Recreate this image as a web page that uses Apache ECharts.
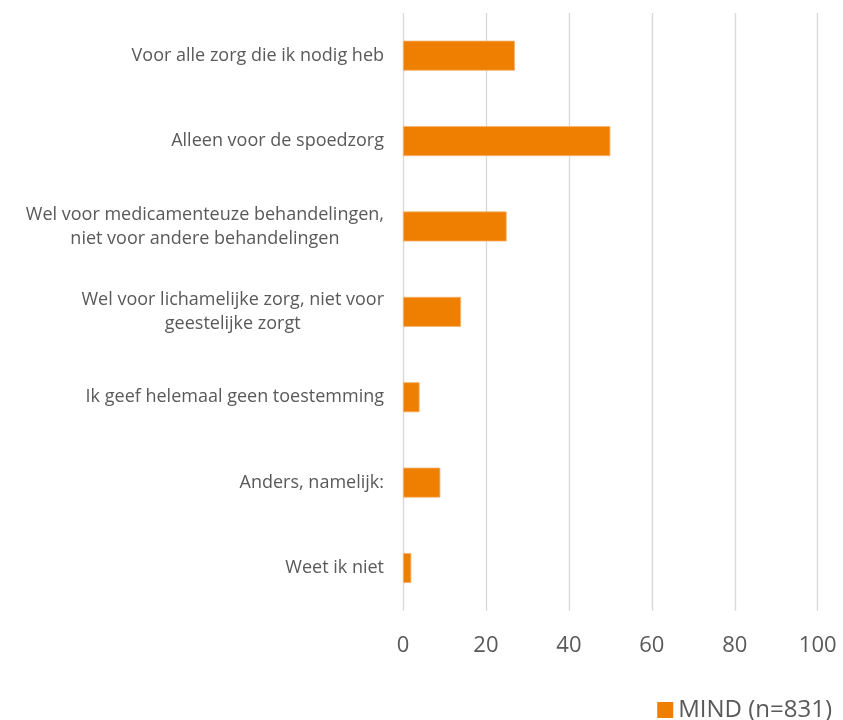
<!DOCTYPE html>
<html>
<head>
<meta charset="utf-8">
<script src="https://cdn.jsdelivr.net/npm/echarts@6/dist/echarts.min.js"></script>
<style>
html,body{margin:0;padding:0;background:#fff;}
#chart{width:843px;height:720px;}
</style>
</head>
<body>
<div id="chart"></div>
<script>
const categories = [
  'Voor alle zorg die ik nodig heb',
  'Alleen voor de spoedzorg',
  'Wel voor medicamenteuze behandelingen,\nniet voor andere behandelingen',
  'Wel voor lichamelijke zorg, niet voor\ngeestelijke zorgt',
  'Ik geef helemaal geen toestemming',
  'Anders, namelijk:',
  'Weet ik niet'
];
const seriesName = 'MIND (n=831)';
const values = [27, 50, 25, 14, 4, 9, 2];
const xTicks = { min: 0, max: 100, interval: 20 };

const chart = echarts.init(document.getElementById('chart'), null, { renderer: 'canvas' });
chart.setOption({
  animation: false,
  backgroundColor: '#ffffff',
  textStyle: { fontFamily: 'Open Sans' },
  grid: { left: 403, right: 25.3, top: 13, bottom: 109.3, containLabel: false },
  legend: {
    data: [seriesName],
    right: 6,
    top: 693,
    itemWidth: 16,
    itemHeight: 16,
    itemGap: 9,
    icon: 'rect',
    itemStyle: { borderWidth: 0, color: '#EF7F00' },
    textStyle: { color: '#595959', fontSize: 24, fontFamily: 'Open Sans', padding: [0, 0, 0, 0] }
  },
  xAxis: {
    type: 'value',
    min: xTicks.min,
    max: xTicks.max,
    interval: xTicks.interval,
    axisLine: { show: false },
    axisTick: { show: false },
    splitLine: { show: true, lineStyle: { color: '#D9D9D9', width: 1.4 } },
    axisLabel: { color: '#595959', fontSize: 22, margin: 24, fontFamily: 'Open Sans' }
  },
  yAxis: {
    type: 'category',
    data: categories,
    inverse: true,
    axisLine: { show: false },
    axisTick: { show: false },
    splitLine: { show: false },
    axisLabel: {
      color: '#595959',
      fontSize: 18,
      fontFamily: 'Open Sans',
      margin: 19,
      align: 'right',
      formatter: function (v) {
        return v.split('\n').map(function (l) { return '{c|' + l + '}'; }).join('\n');
      },
      rich: {
        c: { align: 'center', color: '#595959', fontSize: 18, fontFamily: 'Open Sans', lineHeight: 24 }
      }
    }
  },
  series: [{
    name: seriesName,
    type: 'bar',
    data: values,
    barWidth: 30,
    itemStyle: { color: '#EF7F00', borderColor: '#F6B46E', borderWidth: 0.8 }
  }]
});
</script>
</body>
</html>
